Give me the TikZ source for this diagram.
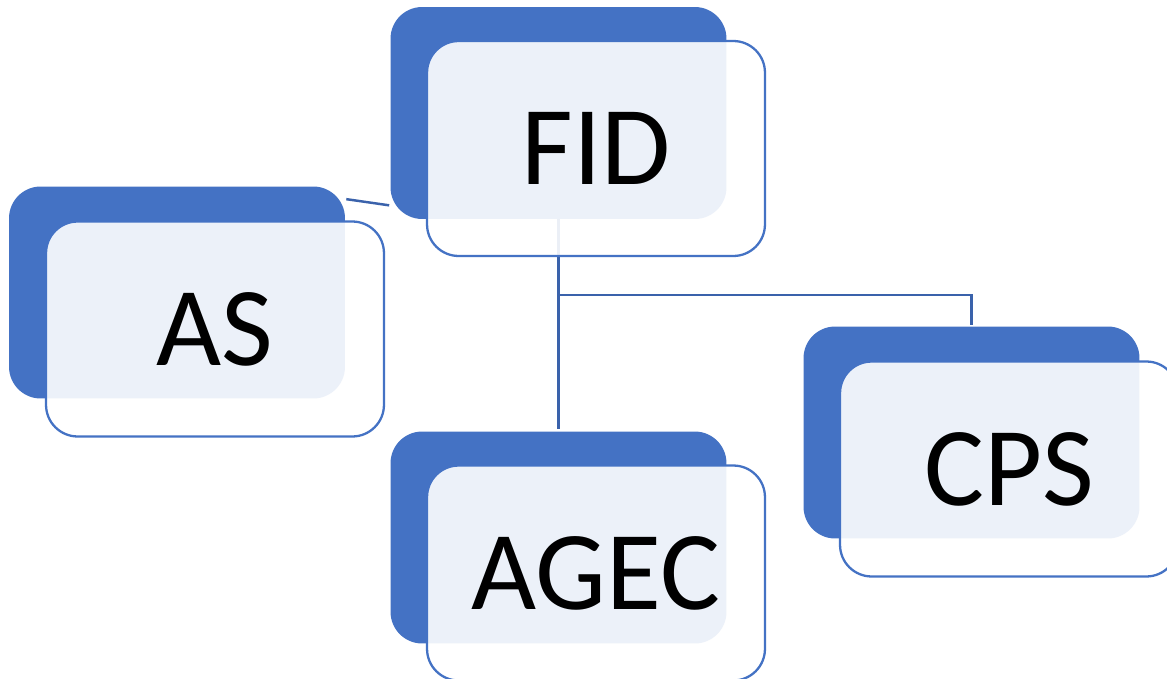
\documentclass[tikz,border=0pt]{standalone}
\usepackage{fontspec}
\setmainfont{Carlito}
\usetikzlibrary{calc}
\definecolor{boxblue}{HTML}{4472C4}
\definecolor{lineblue}{HTML}{3A62AB}
\tikzset{
    darkbox/.style = {rectangle, rounded corners=18, draw=none, fill=boxblue, minimum width=6.72cm, minimum height=4.24cm, inner sep=0pt},
    lightbox/.style = {rectangle, rounded corners=18, draw=boxblue, line width=1.3pt, fill=white, fill opacity=0.9, text opacity=1, minimum width=6.76cm, minimum height=4.30cm, inner sep=0pt, font=\fontsize{64}{70}\selectfont},
    edgeb/.style = {line width=1.4pt, lineblue},
}
\begin{document}
\begin{tikzpicture}[x=0.02cm, y=-0.02cm]
\clip (0,0) rectangle (1167,679);
\fill[white] (0,0) rectangle (1167,679);
%
\coordinate (fork) at (558.5,295);
\node[darkbox] at (558.5,113) (fidb) {};
\node[darkbox] at (177,292.5) (asb) {};
\node[darkbox] at (558.5,537.5) (agecb) {};
\node[darkbox] at (971.5,432.5) (cpsb) {};
%
\draw[edgeb] ($(asb.north east)+(1,13)$) -- ($(fidb.south west)+(-1,-14)$);
\draw[edgeb] (fidb.south) -- ($(agecb.north)+(0,-2)$);
\draw[edgeb] (fork) -| ($(cpsb.north)+(0,-1)$);
%
\node[lightbox] at (596,148.5) (fid) {FID};
\node[lightbox] at (215,329) (as) {AS};
\node[lightbox] at (596,573) (agec) {AGEC};
\node[lightbox] at (1009,469) (cps) {CPS};
%
\end{tikzpicture}
\end{document}
